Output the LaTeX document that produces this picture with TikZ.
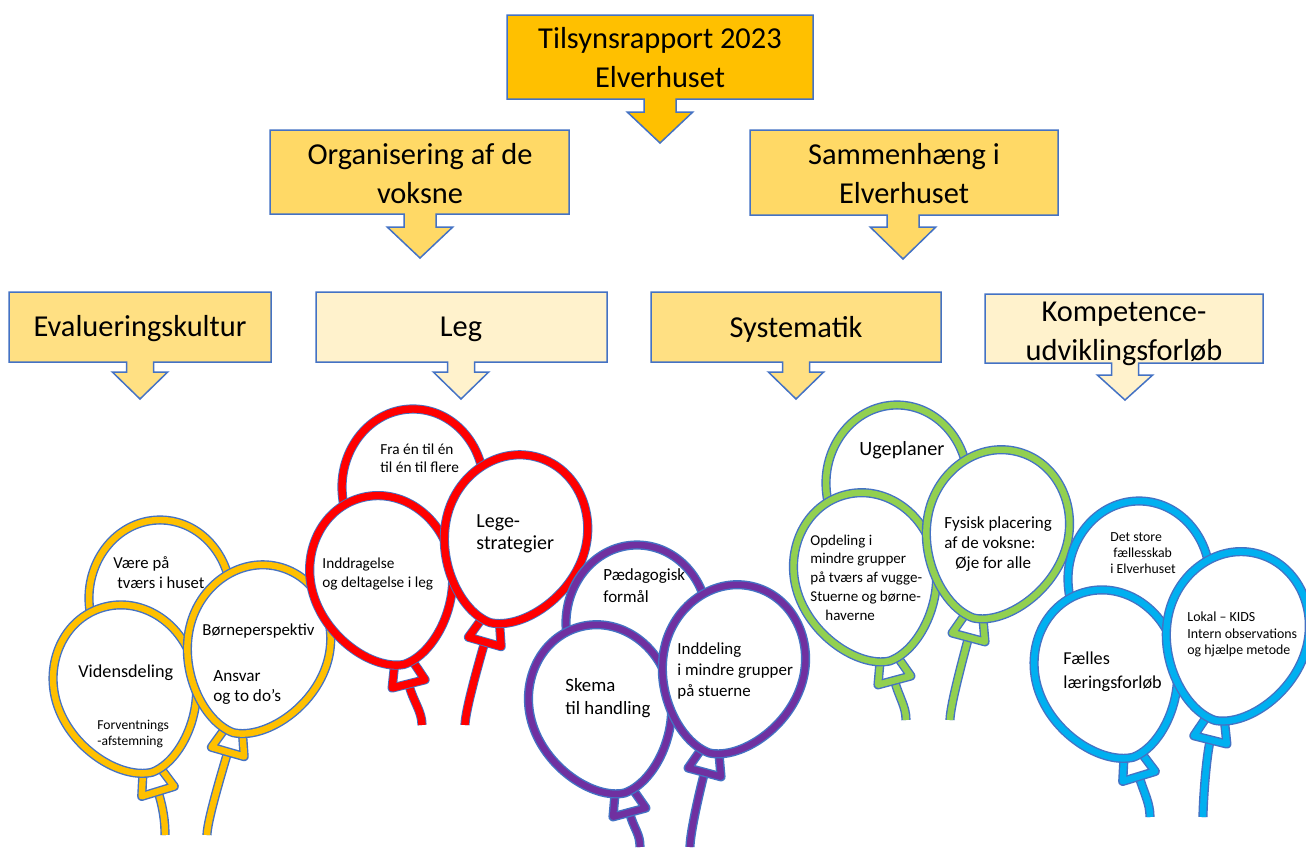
\documentclass[tikz,border=0pt]{standalone}
\usepackage{fontspec}
\setmainfont{Carlito}
\usetikzlibrary{calc}
\definecolor{edgeblue}{HTML}{4472C4}
\definecolor{gold}{HTML}{FFC000}
\definecolor{goldB}{HTML}{FFD966}
\definecolor{goldC}{HTML}{FFE083}
\definecolor{cream}{HTML}{FFF2CC}
\definecolor{bred}{HTML}{FF0000}
\definecolor{bpurple}{HTML}{7030A0}
\definecolor{bgreen}{HTML}{92D050}
\definecolor{bblue}{HTML}{00B0F0}
\tikzset{
  boxline/.style={draw=edgeblue, line width=0.75pt, line join=miter},
  bedge/.style={draw=edgeblue, line width=4.6pt, line join=round},
  bcol/.style={line width=3.2pt, line join=round},
  btext/.style={inner sep=0pt, align=left, anchor=west, text=black},
  ctext/.style={inner sep=0pt, align=center, text=black},
}
\newcommand\fs[2]{\fontsize{#1}{#2}\selectfont}
% x1 y1 x2 y2 cx necky tipy stemhw style
\newcommand\callout[9]{%
  \draw[boxline,#9] (#1,#2) -- (#3,#2) -- (#3,#4) -- ({#5+#8},#4) -- ({#5+#8},#6)
    -- ({#5+2.05*#8},#6) -- (#5,#7) -- ({#5-2.05*#8},#6) -- ({#5-#8},#6)
    -- ({#5-#8},#4) -- (#1,#4) -- cycle;}
% name, center, rotation, colour style, string end
\newcommand\balloonfront[5]{%
  \begin{scope}[shift={#2},rotate=#3]
    \coordinate (#1k) at (0,106);
    \coordinate (#1c) at (0,124);
  \end{scope}
  \coordinate (#1e) at #5;
  \coordinate (#1d) at ($(#1e)+(0,-14)$);
  \draw[bedge] (#1k) .. controls (#1c) and (#1d) .. (#1e);
  \draw[bcol,draw=#4] (#1k) .. controls (#1c) and (#1d) .. (#1e);
  \begin{scope}[shift={#2},rotate=#3]
    \filldraw[bedge,fill=white] (-9,84) -- (9,84) -- (17,106) -- (-17,106) -- cycle;
    \draw[bcol,draw=#4] (-9,84) -- (9,84) -- (17,106) -- (-17,106) -- cycle;
    \filldraw[bedge,fill=white] (0,-86) .. controls (40,-86) and (71,-50) .. (71,-8) .. controls (71,40) and (32,84) .. (0,86) .. controls (-32,84) and (-71,40) .. (-71,-8) .. controls (-71,-50) and (-40,-86) .. (0,-86) -- cycle;
    \draw[bcol,draw=#4] (0,-86) .. controls (40,-86) and (71,-50) .. (71,-8) .. controls (71,40) and (32,84) .. (0,86) .. controls (-32,84) and (-71,40) .. (-71,-8) .. controls (-71,-50) and (-40,-86) .. (0,-86) -- cycle;
  \end{scope}}
\newcommand\balloonback[2]{%
  \begin{scope}[shift={#1}]
    \filldraw[bedge,fill=white] (0,-86) .. controls (40,-86) and (71,-50) .. (71,-8) .. controls (71,40) and (32,84) .. (0,86) .. controls (-32,84) and (-71,40) .. (-71,-8) .. controls (-71,-50) and (-40,-86) .. (0,-86) -- cycle;
    \draw[bcol,draw=#2] (0,-86) .. controls (40,-86) and (71,-50) .. (71,-8) .. controls (71,40) and (32,84) .. (0,86) .. controls (-32,84) and (-71,40) .. (-71,-8) .. controls (-71,-50) and (-40,-86) .. (0,-86) -- cycle;
  \end{scope}}
\begin{document}
\begin{tikzpicture}[x=0.5pt,y=-0.5pt]
\useasboundingbox (0,0) rectangle (1306,847);
\fill[white] (0,0) rectangle (1306,847);

% callout boxes
\callout{507}{15}{813}{99}{660}{112}{143}{16}{fill=gold}
\callout{270}{130}{569}{214}{420}{227}{258}{16}{fill=goldB}
\callout{750}{130}{1058}{215}{903}{227}{259}{16}{fill=goldB}
\callout{9}{292}{271}{362}{140}{372}{399}{13.5}{fill=goldC}
\callout{316}{292}{607}{362}{461}{372}{399}{13.5}{fill=cream}
\callout{651}{292}{941}{362}{796}{372}{399}{13.5}{fill=goldC}
\callout{985}{294}{1263}{363}{1125}{375}{400}{13.5}{fill=cream}

\node[ctext,font=\fs{15.2}{19.5}] (title) at (660,57.5) {Tilsynsrapport 2023\\Elverhuset};
\node[ctext,font=\fs{15.2}{19.5}] (org) at (420,173.5) {Organisering af de\\voksne};
\node[ctext,font=\fs{15.2}{19.5}] (sam) at (904,173.5) {Sammenhæng i\\Elverhuset};
\node[ctext,font=\fs{15.2}{19.5}] (eval) at (140,329) {Evalueringskultur};
\node[ctext,font=\fs{15.2}{19.5}] (leg) at (461,329) {Leg};
\node[ctext,font=\fs{15.2}{19.5}] (sys) at (796,329) {Systematik};
\node[ctext,font=\fs{15.2}{19.5}] (komp) at (1124,334) {Kompetence-\\udviklingsforløb};

% yellow balloons
\balloonback{(160,606)}{gold}
\balloonfront{ya}{(127,690)}{17}{gold}{(165,835)}
\balloonfront{yb}{(257,650)}{-16}{gold}{(207,835)}
% red balloons
\balloonback{(413,495)}{bred,line width=3.7pt}
\balloonfront{ra}{(383,581)}{14}{bred,line width=3.7pt}{(422,725)}
\balloonfront{rb}{(514,540)}{-16}{bred,line width=3.7pt}{(465,725)}
% purple balloons
\balloonback{(637,631)}{bpurple}
\balloonfront{pa}{(602,710)}{15}{bpurple}{(640,847)}
\balloonfront{pb}{(732,670)}{-15}{bpurple}{(690,847)}
% green balloons
\balloonback{(897,491)}{bgreen}
\balloonfront{ga}{(867,578)}{15}{bgreen}{(906,720)}
\balloonfront{gb}{(996,535)}{-15}{bgreen}{(950,720)}
% blue balloons
\balloonback{(1139,587)}{bblue}
\balloonfront{ba}{(1108,675)}{17}{bblue}{(1150,817)}
\balloonfront{bb}{(1236,637)}{-14}{bblue}{(1203,817)}

% balloon texts
\node[btext,font=\fs{8.35}{10}] (ty0) at (113,573) {Være på\\\hspace{2pt}tværs i huset};
\node[btext,font=\fs{9.1}{11}] (ty1) at (78,673) {Vidensdeling};
\node[btext,font=\fs{6.8}{8}] (ty2) at (97,734) {Forventnings\\-afstemning};
\node[btext,font=\fs{8.4}{10}] (ty3) at (202,631) {Børneperspektiv};
\node[btext,font=\fs{8.6}{10}] (ty4) at (213,687) {Ansvar\\og to do’s};

\node[btext,font=\fs{7.65}{9}] (tr0) at (380,458) {Fra én til én\\til én til flere};
\node[btext,font=\fs{7.65}{9.5}] (tr1) at (322,573.5) {Inddragelse\\og deltagelse i leg};
\node[btext,font=\fs{10}{11}] (tr2) at (476,534) {Lege-\\strategier};

\node[btext,font=\fs{8.5}{11}] (tp0) at (603,586) {Pædagogisk\\formål};
\node[btext,font=\fs{9.4}{11.5}] (tp1) at (565,698.5) {Skema\\til handling};
\node[btext,font=\fs{8.45}{10.5}] (tp2) at (677,671) {Inddeling\\i mindre grupper\\på stuerne};

\node[btext,font=\fs{10.1}{12}] (tg0) at (859,450) {Ugeplaner};
\node[btext,font=\fs{7.5}{9.4}] (tg1) at (810,577.5) {Opdeling i\\mindre grupper\\på tværs af vugge-\\Stuerne og børne-\\\hspace{7.5pt}haverne};
\node[btext,font=\fs{8.5}{10}] (tg2) at (944,544.5) {Fysisk placering\\af de voksne:\\\hspace{5.5pt}Øje for alle};

\node[btext,font=\fs{6.9}{8}] (tb0) at (1110,553) {Det store\\\hspace{1.5pt}fællesskab\\i Elverhuset};
\node[btext,font=\fs{9.1}{12}] (tb1) at (1063,672) {Fælles\\læringsforløb};
\node[btext,font=\fs{6.95}{8.25}] (tb2) at (1187,634.5) {Lokal – KIDS\\Intern observations\\og hjælpe metode};
\end{tikzpicture}
\end{document}
